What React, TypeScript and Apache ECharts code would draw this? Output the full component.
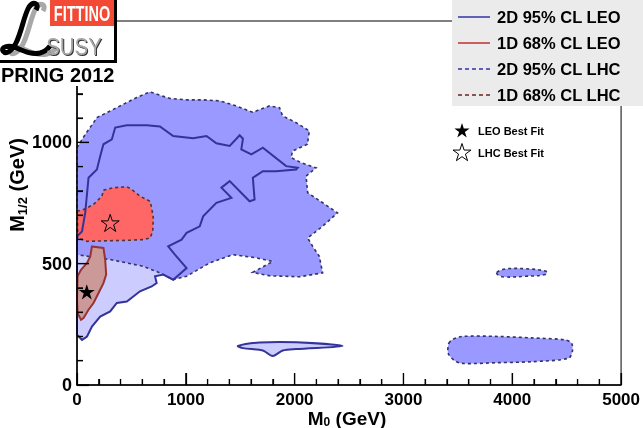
import React, { useEffect, useRef } from 'react';
import * as echarts from 'echarts';

// ---------------- data ----------------
const xTickValues = [0, 1000, 2000, 3000, 4000, 5000];
const yTickValues = [0, 500, 1000, 1500];
const xMinorPerMajor = 5;
const yMinorPerMajor = 5;

const legendLabels = ['2D 95% CL LEO', '1D 68% CL LEO', '2D 95% CL LHC', '1D 68% CL LHC'];
const markerLabels = ['LEO Best Fit', 'LHC Best Fit'];

// 2D 95% CL LHC (dashed, medium blue)
const lhc2dMain: [number, number][] = [
  [0, 978], [76, 1033], [152, 1081], [183, 1102], [305, 1129], [427, 1157], [549, 1185], [671, 1208],
  [762, 1194], [854, 1181], [1007, 1175], [1156, 1175], [1312, 1171], [1464, 1150], [1614, 1124],
  [1769, 1150], [1861, 1143], [1889, 1109], [1952, 1095], [2014, 1081], [2135, 1047], [2117, 992],
  [1980, 964], [1968, 937], [2059, 916], [2197, 895], [2105, 861], [2120, 792], [2257, 751], [2394, 709],
  [2257, 654], [2120, 606], [2166, 571], [2227, 530], [2257, 462], [2044, 446], [1769, 450], [1614, 464],
  [1799, 509], [1647, 524], [1433, 537], [1220, 503], [1007, 448], [884, 434], [762, 462], [610, 489],
  [305, 517], [0, 537],
];
const lhc2dIslandA: [number, number][] = [
  [3859, 464], [3936, 478], [4119, 479], [4316, 468], [4302, 455], [4119, 448], [3936, 445], [3874, 452],
];
const lhc2dIslandB: [number, number][] = [
  [3417, 172], [3447, 186], [3538, 200], [3874, 200], [4179, 194], [4485, 186], [4545, 172], [4552, 138],
  [4515, 110], [4179, 96], [3874, 92], [3538, 89], [3462, 103], [3410, 131], [3410, 158],
];

// 2D 95% CL LEO (solid blue line, light fill)
const leo2dMain: [number, number][] = [
  [0, 207], [46, 186], [92, 200], [137, 241], [213, 282], [305, 303], [366, 338], [458, 344], [579, 386],
  [686, 406], [732, 420], [717, 448], [793, 455], [884, 434], [1007, 482], [900, 537], [838, 571],
  [961, 599], [1007, 627], [1128, 654], [1159, 695], [1281, 751], [1419, 771], [1327, 813], [1403, 840],
  [1586, 757], [1632, 764], [1616, 854], [1708, 881], [1830, 881], [2014, 888], [2028, 895], [1922, 902],
  [1708, 978], [1602, 950], [1510, 971], [1525, 1015], [1495, 1029], [1403, 985], [1281, 996],
  [1190, 1026], [1067, 1017], [884, 1026], [762, 1065], [641, 1070], [458, 1070], [351, 1061],
  [320, 1012], [243, 992], [213, 943], [183, 888], [106, 854], [76, 711], [46, 633], [0, 613],
];
const leo2dIsland: [number, number][] = [
  [1479, 161], [1678, 175], [2014, 176], [2440, 161], [2014, 148], [1891, 142], [1799, 120], [1708, 142],
  [1525, 152],
];

// 1D 68% CL LHC (dashed, red fill)
const lhc1d: [number, number][] = [
  [0, 716], [60, 723], [152, 744], [229, 778], [243, 803], [335, 813], [458, 817], [503, 806], [579, 778],
  [671, 757], [686, 730], [701, 689], [696, 633], [671, 606], [610, 599], [458, 596], [243, 594],
  [92, 592], [5, 606], [5, 668],
];

// 1D 68% CL LEO (solid dark red line, rosy fill)
const leo1d: [number, number][] = [
  [137, 571], [243, 565], [259, 517], [268, 455], [243, 420], [198, 379], [152, 338], [106, 310],
  [60, 276], [37, 269], [5, 296], [0, 351], [5, 448], [37, 475], [92, 503], [122, 530],
];

const leoBestFit: [number, number] = [90, 384];
const lhcBestFit: [number, number] = [305, 668];

// ---------------- styling ----------------
const FONT = "'Liberation Sans', Arial, Helvetica, sans-serif";
const STAR =
  'path://M100,0 L122.45,69.1 L195.1,69.1 L136.3,111.8 L158.8,180.9 L100,138.2 L41.2,180.9 L63.7,111.8 L4.9,69.1 L77.55,69.1 Z';
const L_PATH =
  'M36 9 C40 2 33 0 29 6 C24 14 22 30 16 42 C12 50 6 54 3 50 C1 46 8 44 14 46 C22 49 30 54 40 52 C44 51 47 49 50 45';

function starPoints(cx: number, cy: number, r: number): number[][] {
  const pts: number[][] = [];
  for (let k = 0; k < 10; k++) {
    const a = (-90 + k * 36) * Math.PI / 180;
    const rr = k % 2 === 0 ? r : r * 0.382;
    pts.push([cx + rr * Math.cos(a), cy + rr * Math.sin(a)]);
  }
  return pts;
}

// tick list: [value, isMajor]
function tickList(majors: number[], perMajor: number): [number, number][] {
  const out: [number, number][] = [];
  for (let i = 0; i < majors.length; i++) {
    out.push([majors[i], 1]);
    if (i < majors.length - 1) {
      const step = (majors[i + 1] - majors[i]) / perMajor;
      for (let k = 1; k < perMajor; k++) out.push([majors[i] + k * step, 0]);
    }
  }
  return out;
}

function polySeries(name: string, pts: [number, number][], style: any, z: number, smooth = 0) {
  return {
    type: 'custom',
    name,
    coordinateSystem: 'cartesian2d',
    data: pts,
    encode: { x: 0, y: 1 },
    z,
    silent: true,
    renderItem: (params: any, api: any) => {
      if (params.dataIndex !== 0) return null;
      return {
        type: 'polygon',
        shape: { points: pts.map((p) => api.coord(p)), smooth },
        style,
      };
    },
  };
}

export default function App() {
  const ref = useRef<HTMLDivElement>(null);
  useEffect(() => {
    if (!ref.current) return;
    try {
      echarts.graphic.registerShape('scriptL', echarts.graphic.extendPath(L_PATH, {}) as any);
    } catch (e) {
      /* ignore */
    }
    const chart = echarts.init(ref.current, null, { renderer: 'svg' });

    const lhcStroke = { stroke: '#333366', lineWidth: 1.6, lineDash: [3, 3] };
    const lhc2dStyle = { fill: '#9999ff', ...lhcStroke };
    const legendRowsY = [17, 43, 69, 95];
    const legendLineStyles = [
      { stroke: '#3333aa', lineWidth: 1.5 },
      { stroke: '#c03030', lineWidth: 1.5 },
      { stroke: '#3333aa', lineWidth: 1.5, lineDash: [4, 3] },
      { stroke: '#702020', lineWidth: 1.5, lineDash: [4, 3] },
    ];
    const titleRich = {
      a: { fontSize: 19, fontWeight: 'bold', fontFamily: FONT, fill: '#000', lineHeight: 18 },
      b: { fontSize: 12, fontWeight: 'bold', fontFamily: FONT, fill: '#000', lineHeight: 12, verticalAlign: 'bottom' },
    };
    const yTitleRich = {
      a: { fontSize: 20, fontWeight: 'bold', fontFamily: FONT, fill: '#000', lineHeight: 24 },
      b: { fontSize: 13, fontWeight: 'bold', fontFamily: FONT, fill: '#000', lineHeight: 13, verticalAlign: 'bottom' },
    };

    const graphics: any[] = [
      // logo white backing
      { type: 'rect', z: 100, shape: { x: 0, y: 0, width: 117, height: 86 }, style: { fill: '#fff' } },
      { type: 'rect', z: 101, shape: { x: 50, y: 0, width: 64, height: 26 }, style: { fill: '#f24a34' } },
      {
        type: 'text', z: 102, x: 82, y: 13.5, scaleX: 0.66,
        style: { text: 'FITTINO', fill: '#fff', fontSize: 22, fontWeight: 'bold', fontFamily: FONT, align: 'center', verticalAlign: 'middle' },
      },
      { type: 'scriptL', z: 101, x: 7, y: 2, style: { fill: 'none', stroke: '#a8a8a8', lineWidth: 5 } },
      { type: 'scriptL', z: 102, x: 0, y: 1, style: { fill: 'none', stroke: '#000', lineWidth: 5 } },
      {
        type: 'text', z: 101, x: 75, y: 48, scaleX: 0.85,
        style: { text: 'SUSY', fill: '#333', fontSize: 24, fontFamily: FONT, align: 'center', verticalAlign: 'middle' },
      },
      {
        type: 'text', z: 102, x: 74, y: 47, scaleX: 0.85,
        style: { text: 'SUSY', fill: '#a8a8a8', fontSize: 24, fontFamily: FONT, align: 'center', verticalAlign: 'middle' },
      },
      { type: 'line', z: 103, shape: { x1: 115.5, y1: 0, x2: 115.5, y2: 62 }, style: { stroke: '#000', lineWidth: 3 } },
      { type: 'line', z: 103, shape: { x1: 0, y1: 61.5, x2: 117, y2: 61.5 }, style: { stroke: '#000', lineWidth: 3 } },
      {
        type: 'text', z: 102, x: 1, y: 75,
        style: { text: 'PRING 2012', fill: '#000', fontSize: 20, fontWeight: 'bold', fontFamily: FONT, align: 'left', verticalAlign: 'middle' },
      },
      // legend box
      { type: 'rect', z: 100, shape: { x: 452, y: 0, width: 191, height: 106 }, style: { fill: '#ebebeb' } },
      // axis titles
      {
        type: 'text', z: 100, x: 17, y: 185, rotation: Math.PI / 2,
        style: { text: '{a|M}{b|1/2}{a| (GeV)}', align: 'center', verticalAlign: 'middle', rich: yTitleRich },
      },
      {
        type: 'text', z: 100, x: 347, y: 418.5,
        style: { text: '{a|M}{b|0}{a| (GeV)}', align: 'center', verticalAlign: 'middle', rich: titleRich },
      },
      // best fit legend
      { type: 'polygon', z: 100, shape: { points: starPoints(462, 131, 8) }, style: { fill: '#000' } },
      {
        type: 'text', z: 100, x: 478, y: 131,
        style: { text: markerLabels[0], fill: '#000', fontSize: 11, fontWeight: 'bold', fontFamily: FONT, verticalAlign: 'middle' },
      },
      { type: 'polygon', z: 100, shape: { points: starPoints(462, 153, 9.5) }, style: { fill: 'none', stroke: '#000', lineWidth: 1 } },
      {
        type: 'text', z: 100, x: 478, y: 153,
        style: { text: markerLabels[1], fill: '#000', fontSize: 11, fontWeight: 'bold', fontFamily: FONT, verticalAlign: 'middle' },
      },
    ];
    legendLabels.forEach((lab, i) => {
      const y = legendRowsY[i];
      graphics.push({ type: 'line', z: 101, shape: { x1: 458, y1: y, x2: 490, y2: y }, style: legendLineStyles[i] });
      graphics.push({
        type: 'text', z: 101, x: 497, y,
        style: { text: lab, fill: '#000', fontSize: 16.5, fontWeight: 'bold', fontFamily: FONT, verticalAlign: 'middle' },
      });
    });

    const axisCommon = {
      type: 'value',
      z: 8,
      axisLine: { show: true, lineStyle: { color: '#000', width: 1.5 } },
      axisTick: { show: true, inside: true, length: 12, lineStyle: { color: '#000', width: 1.2 } },
      minorTick: { show: true, splitNumber: 5, length: 6, lineStyle: { color: '#000', width: 1.2 } },
      splitLine: { show: false },
      minorSplitLine: { show: false },
    };

    chart.setOption({
      animation: false,
      textStyle: { fontFamily: FONT },
      grid: { left: 77, right: 21, top: 21, bottom: 43, show: true, borderColor: '#000', borderWidth: 1, backgroundColor: 'transparent' },
      xAxis: {
        ...axisCommon,
        min: xTickValues[0],
        max: xTickValues[xTickValues.length - 1],
        interval: 1000,
        axisLabel: { color: '#000', fontSize: 17, fontWeight: 'bold', fontFamily: FONT, margin: 6, formatter: (v: number) => String(v) },
      },
      yAxis: {
        ...axisCommon,
        min: yTickValues[0],
        max: yTickValues[yTickValues.length - 1],
        interval: 500,
        axisLabel: { color: '#000', fontSize: 18, fontWeight: 'bold', fontFamily: FONT, margin: 5, formatter: (v: number) => String(v) },
      },
      series: [
        polySeries('2D 95% CL LEO fill', leo2dMain, { fill: '#ccccff' }, 1),
        polySeries('2D 95% CL LEO island', leo2dIsland, { fill: '#ccccff', stroke: '#333399', lineWidth: 2 }, 1, 0.3),
        polySeries('2D 95% CL LHC', lhc2dMain, lhc2dStyle, 2),
        polySeries('2D 95% CL LHC a', lhc2dIslandA, lhc2dStyle, 2, 0.4),
        polySeries('2D 95% CL LHC b', lhc2dIslandB, lhc2dStyle, 2, 0.3),
        polySeries('1D 68% CL LHC', lhc1d, { fill: '#ff6666', ...lhcStroke, stroke: '#553333' }, 3),
        polySeries('2D 95% CL LEO', leo2dMain, { fill: 'none', stroke: '#333399', lineWidth: 2 }, 4),
        polySeries('1D 68% CL LEO', leo1d, { fill: '#cc9999', stroke: '#993333', lineWidth: 2 }, 5),
        {
          type: 'scatter', name: 'LEO Best Fit', z: 6, data: [leoBestFit], symbol: STAR, symbolKeepAspect: true,
          symbolSize: 16, itemStyle: { color: '#000', opacity: 1 }, silent: true,
        },
        {
          type: 'scatter', name: 'LHC Best Fit', z: 6, data: [lhcBestFit], symbol: STAR, symbolKeepAspect: true,
          symbolSize: 18, itemStyle: { color: 'rgba(0,0,0,0)', borderColor: '#000', borderWidth: 1, opacity: 1 }, silent: true,
        },
      ],
    });

    // ROOT-style inside ticks, positioned through the chart's own axis scales (drawn above the contours)
    const tickStyle = { stroke: '#000', lineWidth: 1.2 };
    const tickEls: any[] = [];
    tickList(xTickValues, xMinorPerMajor).forEach(([v, major]) => {
      const p = chart.convertToPixel({ xAxisIndex: 0, yAxisIndex: 0 }, [v, yTickValues[0]]) as number[];
      if (!p || isNaN(p[0])) return;
      const len = major ? 12 : 6;
      tickEls.push({ type: 'line', z: 50, silent: true, shape: { x1: p[0], y1: p[1], x2: p[0], y2: p[1] - len }, style: tickStyle });
    });
    tickList(yTickValues, yMinorPerMajor).forEach(([v, major]) => {
      const p = chart.convertToPixel({ xAxisIndex: 0, yAxisIndex: 0 }, [xTickValues[0], v]) as number[];
      if (!p || isNaN(p[0])) return;
      const len = major ? 12 : 6;
      tickEls.push({ type: 'line', z: 50, silent: true, shape: { x1: p[0], y1: p[1], x2: p[0] + len, y2: p[1] }, style: tickStyle });
    });

    chart.setOption({ graphic: { elements: [...tickEls, ...graphics] } });
    return () => chart.dispose();
  }, []);
  return <div ref={ref} style={{ position: 'fixed', left: 0, top: 0, width: 643, height: 428 }} />;
}
